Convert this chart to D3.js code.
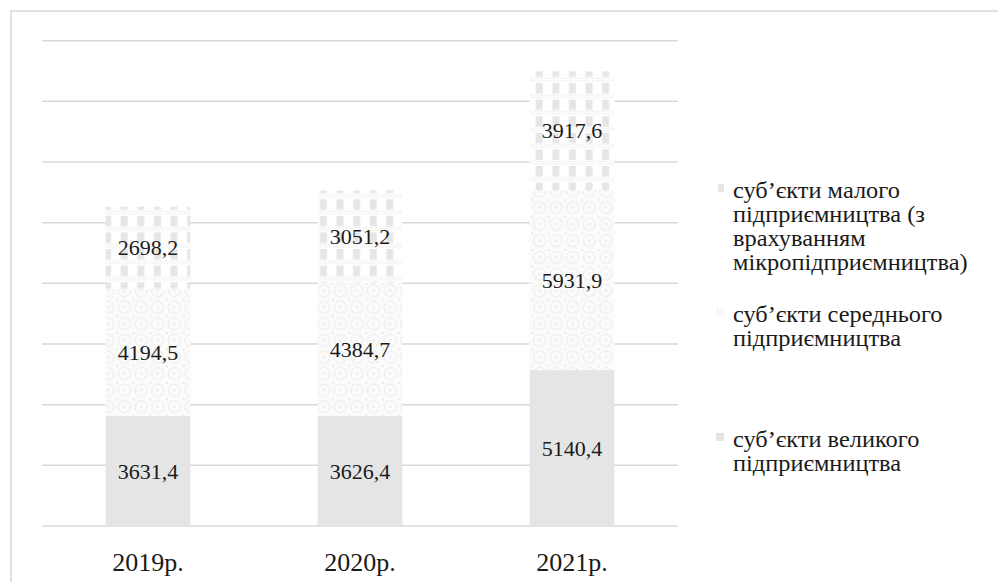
<!DOCTYPE html>
<html>
<head>
<meta charset="utf-8">
<script src="https://cdn.jsdelivr.net/npm/d3@7"></script>
<style>
  body { margin: 0; background: #fff; }
</style>
</head>
<body>
<div id="chart"></div>
<script>
var svgWidth = 998;
var svgHeight = 582;
var serif = "Liberation Serif";

// data
var years = ["2019р.", "2020р.", "2021р."];
var large = [3631.4, 3626.4, 5140.4];
var medium = [4194.5, 4384.7, 5931.9];
var small = [2698.2, 3051.2, 3917.6];
var seriesNames = [
  "суб’єкти великого підприємництва",
  "суб’єкти середнього підприємництва",
  "суб’єкти малого підприємництва (з врахуванням мікропідприємництва)"
];
var yTicks = [0, 2000, 4000, 6000, 8000, 10000, 12000, 14000, 16000];

var plot = { left: 42, right: 678, top: 40.7, bottom: 526 };

var svg = d3.select("#chart")
  .append("svg")
  .attr("width", svgWidth)
  .attr("height", svgHeight);

// patterns
var defs = svg.append("defs");

// top series: gray vertical blocks with dotted rows
var p1 = defs.append("pattern")
  .attr("id", "patSmall")
  .attr("patternUnits", "userSpaceOnUse")
  .attr("width", 16.6).attr("height", 16.6);
p1.append("rect").attr("width", 16.6).attr("height", 16.6).attr("fill", "#fff");
p1.append("rect").attr("x", 4.5).attr("y", 0).attr("width", 7).attr("height", 10.5).attr("fill", "#e6e6e6");
for (var i = 0; i < 8; i++) {
  p1.append("rect").attr("x", i * 2.1).attr("y", 11.5).attr("width", 1.2).attr("height", 1.2).attr("fill", "#ebebeb");
  p1.append("rect").attr("x", i * 2.1 + 1).attr("y", 13.8).attr("width", 1.2).attr("height", 1.2).attr("fill", "#ebebeb");
}

// middle series: dotted lattice of rings
var p2 = defs.append("pattern")
  .attr("id", "patMedium")
  .attr("patternUnits", "userSpaceOnUse")
  .attr("width", 16.6).attr("height", 16.6);
p2.append("rect").attr("width", 16.6).attr("height", 16.6).attr("fill", "#fbfbfb");
p2.append("circle").attr("cx", 8.3).attr("cy", 8.3).attr("r", 6)
  .attr("fill", "none").attr("stroke", "#e4e4e4").attr("stroke-width", 1.3)
  .attr("stroke-dasharray", "1.3,1.3");
p2.append("rect").attr("x", 7.3).attr("y", 7.3).attr("width", 2).attr("height", 2).attr("fill", "#e8e8e8");
p2.append("rect").attr("x", 0).attr("y", 0).attr("width", 2).attr("height", 2).attr("fill", "#e8e8e8");

var fills = ["#e5e5e5", "url(#patMedium)", "url(#patSmall)"];

// frame
svg.append("rect")
  .attr("x", 11).attr("y", 11)
  .attr("width", 1000).attr("height", 600)
  .attr("fill", "none")
  .attr("stroke", "#d9d9d9")
  .attr("stroke-width", 1.5);

var x = d3.scaleBand()
  .domain(years)
  .range([plot.left, plot.right])
  .paddingInner(0.6)
  .paddingOuter(0.3);

var y = d3.scaleLinear()
  .domain([0, 16000])
  .range([plot.bottom, plot.top]);

// gridlines
svg.append("g")
  .selectAll("line")
  .data(yTicks)
  .enter()
  .append("line")
  .attr("x1", plot.left)
  .attr("x2", plot.right)
  .attr("y1", d => y(d))
  .attr("y2", d => y(d))
  .attr("stroke", "#d9d9d9")
  .attr("stroke-width", 1.5);

// stack
var rows = years.map(function(yr, i) {
  return { year: yr, s0: large[i], s1: medium[i], s2: small[i] };
});
var stack = d3.stack().keys(["s0", "s1", "s2"])(rows);

var layers = svg.selectAll("g.layer")
  .data(stack)
  .enter()
  .append("g")
  .attr("class", "layer")
  .attr("fill", (d, i) => fills[i]);

layers.selectAll("rect")
  .data(d => d)
  .enter()
  .append("rect")
  .attr("x", d => x(d.data.year))
  .attr("width", x.bandwidth())
  .attr("y", d => y(d[1]))
  .attr("height", d => y(d[0]) - y(d[1]));

// data labels
layers.selectAll("text")
  .data(d => d)
  .enter()
  .append("text")
  .attr("x", d => x(d.data.year) + x.bandwidth() / 2)
  .attr("y", d => (y(d[0]) + y(d[1])) / 2)
  .attr("dy", "0.35em")
  .attr("text-anchor", "middle")
  .attr("font-size", 22)
  .attr("fill", "#1a1a1a")
  .style("font-family", serif)
  .text(d => d3.format(".1f")(d[1] - d[0]).replace(".", ","));

// x axis labels
var xAxis = svg.append("g")
  .attr("transform", `translate(0, ${plot.bottom})`)
  .call(d3.axisBottom(x).tickSize(0).tickPadding(27));
xAxis.select(".domain").remove();
xAxis.selectAll("text")
  .attr("font-size", 26)
  .attr("fill", "#1a1a1a")
  .style("font-family", serif);

// legend
var legendItems = [
  { name: seriesNames[2], fill: fills[2], y: 190, lines: ["суб’єкти малого", "підприємництва (з", "врахуванням", "мікропідприємництва)"] },
  { name: seriesNames[1], fill: fills[1], y: 314, lines: ["суб’єкти середнього", "підприємництва"] },
  { name: seriesNames[0], fill: fills[0], y: 439, lines: ["суб’єкти великого", "підприємництва"] }
];

var legend = svg.append("g");
legendItems.forEach(function(item) {
  legend.append("rect")
    .attr("x", 716).attr("y", item.y - 6)
    .attr("width", 8).attr("height", 8)
    .attr("fill", item.fill);
  var t = legend.append("text")
    .attr("transform", "translate(733,0) scale(1.06,1)")
    .attr("x", 0).attr("y", item.y)
    .attr("font-size", 23)
    .attr("fill", "#1a1a1a")
    .style("font-family", serif);
  item.lines.forEach(function(line, j) {
    t.append("tspan")
      .attr("x", 0)
      .attr("dy", j === 0 ? "0.35em" : 24)
      .text(line);
  });
});
</script>
</body>
</html>
